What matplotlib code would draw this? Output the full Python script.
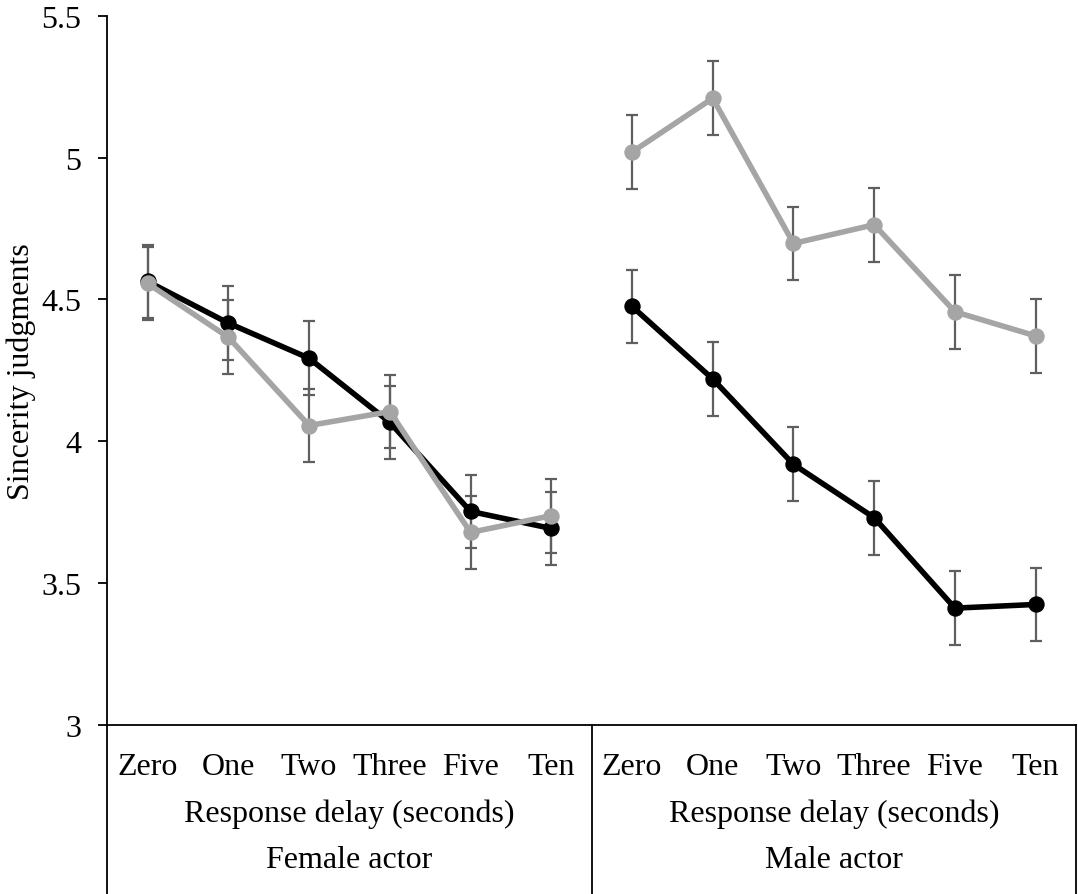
import matplotlib
matplotlib.use("Agg")
import matplotlib.pyplot as plt
import matplotlib.transforms as mtransforms
from matplotlib.lines import Line2D

plt.rcParams['font.family'] = ['Liberation Serif', 'DejaVu Serif']

delays = ["Zero", "One", "Two", "Three", "Five", "Ten"]
actors = ["Female actor", "Male actor"]
axis_title = "Response delay (seconds)"

# series values (black series and gray series), per actor
female_black = [4.563, 4.416, 4.292, 4.066, 3.752, 3.692]
female_gray = [4.556, 4.366, 4.055, 4.104, 3.678, 3.737]
male_black = [4.475, 4.219, 3.918, 3.730, 3.411, 3.424]
male_gray = [5.019, 5.209, 4.697, 4.763, 4.456, 4.371]

female_black_err = [0.13, 0.13, 0.13, 0.13, 0.13, 0.13]
female_gray_err = [0.13, 0.13, 0.13, 0.13, 0.13, 0.13]
male_black_err = [0.13, 0.13, 0.13, 0.13, 0.13, 0.13]
male_gray_err = [0.13, 0.13, 0.13, 0.13, 0.13, 0.13]

yticks = [3, 3.5, 4, 4.5, 5, 5.5]
ytick_labels = ["3", "3.5", "4", "4.5", "5", "5.5"]

FS = 23

W, H = 1078, 895
fig = plt.figure(figsize=(W / 100, H / 100), dpi=100)
left, right, top, bottom = 107.3, 1076.0, 16.7, 725.7
ax = fig.add_axes([left / W, 1 - bottom / H, (right - left) / W, (bottom - top) / H])

BLACK = "#000000"
GRAY = "#A5A5A5"
ERR = "#5F5F5F"

n = len(delays)
groups = [
    (list(range(0, n)), female_black, female_black_err, female_gray, female_gray_err),
    (list(range(n, 2 * n)), male_black, male_black_err, male_gray, male_gray_err),
]

for xs, b, be, g, ge in groups:
    ax.errorbar(xs, b, yerr=be, fmt='none', ecolor=ERR, elinewidth=1.6,
                capsize=4.5, capthick=1.6, zorder=2)
    ax.errorbar(xs, g, yerr=ge, fmt='none', ecolor=ERR, elinewidth=1.6,
                capsize=4.5, capthick=1.6, zorder=2)
    ax.plot(xs, b, color=BLACK, lw=4.0, marker='o', ms=10.8, zorder=3,
            solid_capstyle='round')
    ax.plot(xs, g, color=GRAY, lw=4.0, marker='o', ms=10.8, zorder=4,
            solid_capstyle='round')

ax.set_xlim(-0.5, 2 * n - 0.5)
ax.set_ylim(3, 5.5)
ax.set_yticks(yticks)
ax.set_yticklabels(ytick_labels, fontsize=FS)
ax.tick_params(axis='y', length=6.5, width=1.3, pad=12, direction='out')
ax.set_xticks([])
ax.spines['top'].set_visible(False)
ax.spines['right'].set_visible(False)
for s in ['left', 'bottom']:
    ax.spines[s].set_linewidth(1.3)
ax.set_ylabel("Sincerity judgments", fontsize=FS, labelpad=4)

axh = bottom - top
trans = mtransforms.blended_transform_factory(ax.transData, ax.transAxes)
y_cat = (bottom - 768) / axh
y_title = (bottom - 814) / axh
y_actor = (bottom - 861) / axh
y_end = (bottom - H - 2) / axh

labels_all = delays + delays
for i, lab in enumerate(labels_all):
    ax.text(i, y_cat, lab, transform=trans, ha='center', va='center', fontsize=FS)
for k, act in enumerate(actors):
    cx = k * n + (n - 1) / 2
    ax.text(cx, y_title, axis_title, transform=trans, ha='center', va='center', fontsize=FS)
    ax.text(cx, y_actor, act, transform=trans, ha='center', va='center', fontsize=FS)

for xv in [-0.5, n - 0.5, 2 * n - 0.5]:
    ax.add_line(Line2D([xv, xv], [0, y_end], transform=trans, color='black',
                       lw=1.3, clip_on=False))

fig.savefig("out.png", dpi=100)
